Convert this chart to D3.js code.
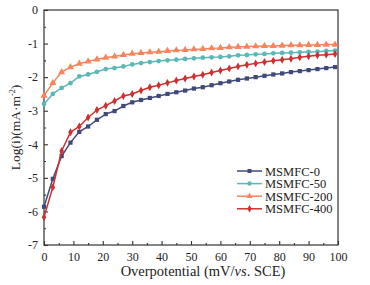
<!DOCTYPE html>
<html>
<head>
<meta charset="utf-8">
<script src="https://cdn.jsdelivr.net/npm/d3@7"></script>
<style>
  body { margin: 0; background: #fff; }
  text { font-family: "Liberation Serif", "Times New Roman", serif; fill: #222; }
</style>
</head>
<body>
<script>
const potential = [0, 3, 6, 9, 12, 15, 18, 21, 24, 27, 30, 33, 36, 39, 42, 45, 48,
  51, 54, 57, 60, 63, 66, 69, 72, 75, 78, 81, 84, 87, 90, 93, 96, 99];

const msmfc0 = [-5.86, -5.03, -4.35, -3.95, -3.63, -3.47, -3.27, -3.10, -3.01, -2.86,
  -2.75, -2.68, -2.62, -2.56, -2.50, -2.45, -2.40, -2.34, -2.30, -2.24, -2.18, -2.13,
  -2.08, -2.04, -2.00, -1.96, -1.92, -1.89, -1.85, -1.82, -1.79, -1.76, -1.73, -1.70];

const msmfc50 = [-2.80, -2.50, -2.32, -2.18, -1.98, -1.92, -1.84, -1.76, -1.73, -1.68,
  -1.62, -1.58, -1.55, -1.52, -1.50, -1.48, -1.46, -1.44, -1.42, -1.41, -1.40, -1.38,
  -1.35, -1.34, -1.32, -1.31, -1.29, -1.28, -1.27, -1.26, -1.25, -1.24, -1.22, -1.21];

const msmfc200 = [-2.55, -2.17, -1.85, -1.70, -1.60, -1.53, -1.47, -1.42, -1.38, -1.34,
  -1.30, -1.28, -1.26, -1.24, -1.22, -1.20, -1.19, -1.17, -1.16, -1.14, -1.13, -1.11,
  -1.10, -1.09, -1.08, -1.07, -1.07, -1.06, -1.05, -1.05, -1.04, -1.04, -1.03, -1.03];

const msmfc400 = [-6.17, -5.28, -4.20, -3.64, -3.47, -3.20, -2.98, -2.85, -2.71, -2.56,
  -2.50, -2.40, -2.30, -2.24, -2.17, -2.10, -2.04, -1.98, -1.93, -1.86, -1.80, -1.74,
  -1.68, -1.63, -1.59, -1.55, -1.51, -1.48, -1.45, -1.41, -1.38, -1.35, -1.33, -1.31];

const seriesNames = ["MSMFC-0", "MSMFC-50", "MSMFC-200", "MSMFC-400"];
const seriesValues = [msmfc0, msmfc50, msmfc200, msmfc400];
const xTicks = [0, 10, 20, 30, 40, 50, 60, 70, 80, 90, 100];
const yTicks = [0, -1, -2, -3, -4, -5, -6, -7];

// ============ layout ============
const width = 370, height = 285;
const margin = {left: 44, right: 32, top: 10, bottom: 40};
const colors = ["#3f4a78", "#5cb8b8", "#f7845c", "#cf2f2f"];
const symbols = [d3.symbolSquare, d3.symbolCircle, d3.symbolTriangle, d3.symbolDiamond];

const svg = d3.select("body").append("svg")
  .attr("width", width).attr("height", height);

const x = d3.scaleLinear().domain([0, 100]).range([margin.left, width - margin.right]);
const y = d3.scaleLinear().domain([-7, 0]).range([height - margin.bottom, margin.top]);

// ============ axes ============
const axisColor = "#333";
const fmt = d => String(d);   // plain hyphen minus, like the original
const gx = svg.append("g").attr("transform", `translate(0,${y(-7)})`)
  .call(d3.axisBottom(x).tickValues(xTicks).tickFormat(fmt)
    .tickSizeInner(-4).tickSizeOuter(0).tickPadding(7));
const gxMinor = svg.append("g").attr("transform", `translate(0,${y(-7)})`)
  .call(d3.axisBottom(x).tickValues(d3.range(5, 100, 10)).tickSize(-2).tickFormat(""));
const gy = svg.append("g").attr("transform", `translate(${x(0)},0)`)
  .call(d3.axisLeft(y).tickValues(yTicks).tickFormat(fmt)
    .tickSizeInner(-4).tickSizeOuter(0).tickPadding(6));
const gyMinor = svg.append("g").attr("transform", `translate(${x(0)},0)`)
  .call(d3.axisLeft(y).tickValues(d3.range(-6.5, 0, 1)).tickSize(-2).tickFormat(""));

[gx, gxMinor, gy, gyMinor].forEach(g => {
  g.select(".domain").remove();
  g.selectAll("line").attr("stroke", axisColor).attr("stroke-width", 1.1);
  g.selectAll("text").style("font-family", "'Liberation Serif', serif")
    .style("font-size", "12px").attr("fill", "#222");
});

// frame
svg.append("rect")
  .attr("x", x(0)).attr("y", y(0))
  .attr("width", x(100) - x(0)).attr("height", y(-7) - y(0))
  .attr("fill", "none").attr("stroke", axisColor).attr("stroke-width", 1.2);

// ============ lines ============
const line = d3.line().x((d, i) => x(potential[i])).y(d => y(d));

seriesValues.forEach((vals, k) => {
  svg.append("path").datum(vals)
    .attr("d", line).attr("fill", "none")
    .attr("stroke", colors[k]).attr("stroke-width", 1.5);
  svg.selectAll(".m" + k).data(vals).enter().append("path")
    .attr("class", "m" + k)
    .attr("transform", (d, i) => `translate(${x(potential[i])},${y(d)})`)
    .attr("d", d3.symbol().type(symbols[k]).size(k === 2 ? 22 : 18))
    .attr("fill", colors[k]);
});

// ============ legend ============
const legend = svg.append("g").attr("transform", "translate(237,171)");
seriesNames.forEach((name, k) => {
  const row = legend.append("g").attr("transform", `translate(0,${k * 12.6})`);
  row.append("line").attr("x1", 0).attr("x2", 25).attr("y1", 0).attr("y2", 0)
    .attr("stroke", colors[k]).attr("stroke-width", 1.5);
  row.append("path").attr("transform", "translate(12.5,0)")
    .attr("d", d3.symbol().type(symbols[k]).size(16)).attr("fill", colors[k]);
  row.append("text").attr("x", 28).attr("y", 4.5)
    .style("font-size", "12.5px").text(name);
});

// ============ labels ============
svg.append("text")
  .attr("x", 203).attr("y", 276)
  .attr("text-anchor", "middle").style("font-size", "14.5px")
  .html('Overpotential (mV/<tspan font-style="italic">vs</tspan>. SCE)');

svg.append("text")
  .attr("transform", `translate(20,${(y(0) + y(-7)) / 2}) rotate(-90)`)
  .attr("text-anchor", "middle").style("font-size", "13.5px")
  .html('Log(i)(mA·m<tspan dy="-5" font-size="8px">-2</tspan><tspan dy="5">)</tspan>');
</script>
</body>
</html>
